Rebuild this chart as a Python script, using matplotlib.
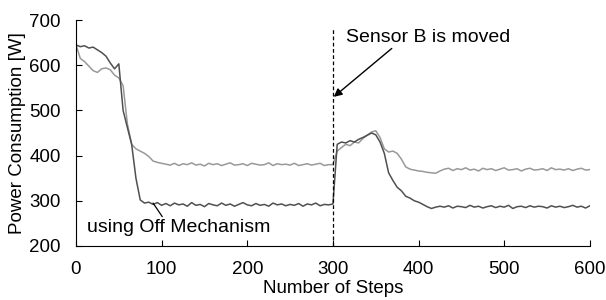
import numpy as np
import matplotlib.pyplot as plt

plt.rcParams['font.family'] = ['Liberation Sans', 'DejaVu Sans']

# steps sampled every 5
steps = list(range(0, 601, 5))

# power consumption with the off mechanism (dark curve)
power_off = [645, 641, 643, 638, 640, 634, 628, 620, 605, 592, 603, 500, 462, 425, 350, 302, 295, 297, 292, 296, 290,
             294, 289, 295, 291, 293, 288, 296, 290, 292, 287, 294, 291, 289, 295, 290, 293, 288, 292, 296, 291,
             289, 294, 290, 292, 288, 295, 291, 293, 289, 292, 290, 294, 288, 293, 291, 295, 289, 292, 291,
             293, 425, 430, 428, 433, 430, 436, 440, 445, 450, 446, 430, 405, 362, 345, 330, 322, 310, 306, 300,
             297, 292, 287, 283, 286, 288,
             286, 289, 284, 288, 287, 285, 290, 286, 288, 284, 287, 289, 285, 288, 286, 290, 283, 287, 288, 285,
             289, 286, 288, 287, 284, 289, 286, 288, 285, 287, 290, 286, 288, 284, 289]

# power consumption without it (light curve)
power_base = [645, 615, 608, 598, 588, 584, 592, 594, 590, 578, 572, 555, 470, 425, 415, 410, 405, 398, 388, 385, 383,
              381, 379, 383, 378, 382, 380, 384, 379, 381, 377, 383, 380, 382, 378, 381, 384, 379, 380, 382, 378,
              383, 381, 379, 380, 384, 378, 382, 380, 381, 379, 383, 378, 380, 382, 379, 381, 383, 378, 380,
              380, 410, 418, 425, 422, 430, 428, 438, 445, 452, 455, 440, 415, 408, 410, 405, 392, 375, 370, 368,
              366, 365, 363, 362, 361, 366,
              370, 372, 367, 371, 369, 373, 368, 370, 366, 372, 369, 371, 367, 370, 373, 368, 369, 371, 366, 370,
              372, 368, 369, 371, 367, 373, 369, 370, 368, 371, 367, 370, 372, 368, 369]

fig = plt.figure(figsize=(6.06, 3.0), dpi=100)
ax = fig.add_axes([0.1254, 0.18, 0.848, 0.7533])

ax.plot(steps, power_base, color='#999999', lw=1.1)
ax.plot(steps, power_off, color='#505050', lw=1.1)

ax.plot([300, 300], [200, 680], color='black', lw=0.9, ls=(0, (3, 2)))

ax.annotate('Sensor B is moved', xy=(301, 530), xytext=(315, 662), fontsize=14,
            va='center', ha='left',
            arrowprops=dict(arrowstyle='-|>', color='black', lw=1, shrinkA=0, shrinkB=0,
                            mutation_scale=12, relpos=(0.3, 0.0)))

ax.annotate('using Off Mechanism', xy=(90, 295), xytext=(13, 240), fontsize=14,
            va='center', ha='left',
            arrowprops=dict(arrowstyle='-', color='black', lw=0.9, shrinkA=0, shrinkB=0,
                            relpos=(0.42, 1.0)))

ax.set_xlim(0, 600)
ax.set_ylim(200, 700)
ax.set_xticks(range(0, 601, 100))
ax.set_yticks(range(200, 701, 100))
ax.tick_params(direction='in', length=4, labelsize=13.5)
ax.tick_params(axis='x', pad=11)
ax.tick_params(axis='y', pad=11)
ax.spines['top'].set_visible(False)
ax.spines['right'].set_visible(False)
ax.set_xlabel('Number of Steps', fontsize=13.5, labelpad=1)
ax.set_ylabel('Power Consumption [W]', fontsize=13.5, labelpad=2)

fig.savefig('out.png', dpi=100)
